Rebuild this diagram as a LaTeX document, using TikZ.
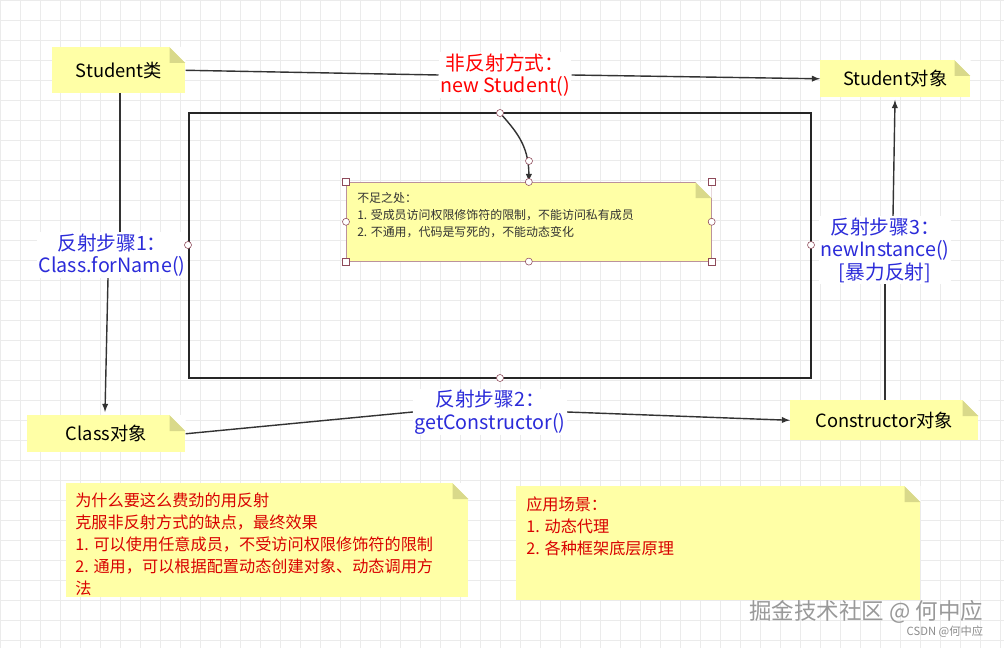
\documentclass[tikz,border=0pt]{standalone}
\usepackage{fontspec}
\newfontfamily\cjk{Noto Sans CJK SC}
\usetikzlibrary{positioning}
\definecolor{notefill}{HTML}{FFFFA6}
\definecolor{notefold}{HTML}{D9D98A}
\definecolor{refblue}{HTML}{2B2BD9}
\definecolor{handle}{HTML}{8E4A5A}
\tikzset{
  note/.style={fill=notefill, anchor=north west, inner sep=0pt, font=\cjk},
  link/.style={draw=black!80, line width=1pt, -latex},
  lab/.style={fill=white, inner sep=1pt, font=\cjk\fontsize{14}{16}\selectfont, align=center},
  body/.style={anchor=north west, font=\cjk\fontsize{11.5}{15.6}\selectfont, align=left, text=red!85!black, inner sep=0pt},
  hc/.style={circle, draw=handle, fill=white, inner sep=0pt, minimum size=5pt},
  hs/.style={draw=handle, fill=white, inner sep=0pt, minimum size=5pt},
}
\begin{document}
\begin{tikzpicture}[x=0.025cm, y=-0.025cm]

\useasboundingbox (0,0) rectangle (1004,648);
\fill[white] (0,0) rectangle (1004,648);

% Background grid
\foreach \g in {0,20,...,1000} {
  \draw[black!8] (\g,0) -- (\g,648);
}
\foreach \g in {0,20,...,640} {
  \draw[black!8] (0,\g) -- (1004,\g);
}

% Frame
\draw[line width=1pt, black!85] (189,113) rectangle (811,378);

% Notes
\node[note, minimum width=3.325cm, minimum height=1.15cm] (cls) at (52,47) {};
\node[font=\cjk\fontsize{13}{15}\selectfont] at (cls.center) {Student类};
\node[note, minimum width=3.75cm, minimum height=0.925cm] (obj) at (820,60) {};
\node[font=\cjk\fontsize{13}{15}\selectfont] at (obj.center) {Student对象};
\node[note, minimum width=3.95cm, minimum height=0.925cm] (clo) at (27,415) {};
\node[font=\cjk\fontsize{13}{15}\selectfont] at (clo.center) {Class对象};
\node[note, minimum width=4.7cm, minimum height=1cm] (con) at (790,400) {};
\node[font=\cjk\fontsize{13}{15}\selectfont] at (con.center) {Constructor对象};
\node[note, draw=handle!60, minimum width=9.125cm, minimum height=1.975cm] (lack) at (346,182) {};
\node[anchor=north west, font=\cjk\fontsize{8.5}{12}\selectfont, align=left, text=black!80, inner sep=0pt]
  at (357,192) {不足之处：\\1. 受成员访问权限修饰符的限制，不能访问私有成员\\2. 不通用，代码是写死的，不能动态变化};
\node[note, minimum width=10.05cm, minimum height=2.85cm] (why) at (66,483) {};
\node[body] at (75,493) {为什么要这么费劲的用反射\\克服非反射方式的缺点，最终效果\\1. 可以使用任意成员，不受访问权限修饰符的限制\\2. 通用，可以根据配置动态创建对象、动态调用方\\法};
\node[note, minimum width=10.1cm, minimum height=2.85cm] (use) at (516,486) {};
\node[body] at (526,497) {应用场景：\\1. 动态代理\\2. 各种框架底层原理};

% Folded corners
\foreach \n in {cls,obj,clo,con,lack,why,use} {
  \fill[notefold] ([xshift=-0.4cm]\n.north east) -- ([yshift=-0.4cm]\n.north east) -- ([xshift=-0.4cm,yshift=-0.4cm]\n.north east) -- cycle;
  \fill[white] ([xshift=-0.4cm]\n.north east) -- (\n.north east) -- ([yshift=-0.4cm]\n.north east) -- cycle;
}

% Labels
\node[lab, text=red] (nonref) at (505,75) {非反射方式：\\new Student()};
\node[lab, text=refblue] (step1) at (112,255) {反射步骤1：\\Class.forName()};
\node[lab, text=refblue] (step2) at (490,412) {反射步骤2：\\getConstructor()};
\node[lab, text=refblue] (step3) at (885,250) {反射步骤3：\\newInstance()\\{}[暴力反射]};

% Connectors
\coordinate (ntop) at (500,113);
\draw[link, -] (cls.east) -- (nonref.west);
\draw[link] (nonref.east) -- (obj.west);
\draw[link, -] (120,93) -- (step1.north -| 120,0);
\draw[link] (step1.south -| 108,0) -- (105,412);
\draw[link, -] (clo.east) -- (step2.west);
\draw[link] (step2.east) -- (con.west);
\draw[link, -] (885,400) -- (step3.south -| 885,0);
\draw[link] (step3.north -| 893,0) -- (895,100);
\draw[link] (ntop) .. controls (515,130) and (529,145) .. (lack.north);

% Handles
\foreach \p in {(188,245),(500,113),(500,378),(811,245),(529,161)} {
  \node[hc] at \p {};
}
\foreach \a in {north,south,east,west} {
  \node[hc] at (lack.\a) {};
}
\foreach \a in {north east,north west,south east,south west} {
  \node[hs] at (lack.\a) {};
}

% Watermark
\node[font=\cjk\fontsize{16}{18}\selectfont, text=black!40, anchor=east] at (988,612) {掘金技术社区 @ 何中应};
\node[font=\cjk\footnotesize, text=black!45, anchor=east] at (988,632) {CSDN @何中应};
\end{tikzpicture}
\end{document}
